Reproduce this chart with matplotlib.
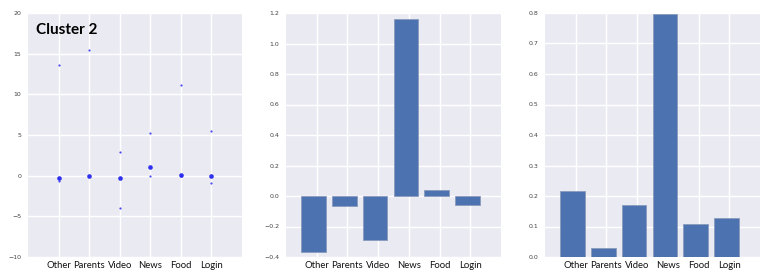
import matplotlib
matplotlib.use("Agg")
import matplotlib.pyplot as plt
import numpy as np

categories = ["Other", "Parents", "Video", "News", "Food", "Login"]

# Panel 1: scattered values per category (small points) and central values (larger points)
scatter_small_cat = [0, 0, 1, 2, 2, 3, 3, 4, 4, 5, 5]
scatter_small_val = [13.6, -0.7, 15.4, 2.9, -4.0, 5.3, -0.1, 11.1, -0.1, 5.5, -0.9]
center_val = [-0.3, -0.1, -0.3, 1.1, 0.1, -0.1]

# Panel 2 and 3 bar values
bar2_values = [-0.366, -0.066, -0.287, 1.162, 0.042, -0.057]
bar3_values = [0.215, 0.029, 0.170, 0.796, 0.107, 0.129]

bg = "#EAEAF2"
bar_color = "#4C72B0"
edge_color = "#8a9bbd"

fig = plt.figure(figsize=(7.74, 2.79), dpi=100)
positions = [
    [28/774, 22/279, 214/774, 244/279],
    [286/774, 22/279, 215/774, 244/279],
    [545/774, 22/279, 215/774, 244/279],
]
axes = [fig.add_axes(p) for p in positions]

xt = np.arange(1, len(categories) + 1)

for ax in axes:
    ax.set_facecolor(bg)
    for s in ax.spines.values():
        s.set_visible(False)
    ax.grid(True, color="white", linewidth=1.0)
    ax.set_axisbelow(True)
    ax.tick_params(axis="both", length=0)
    ax.tick_params(axis="y", labelsize=4.5, labelcolor="#444444", pad=5)
    ax.tick_params(axis="x", labelsize=6.8, labelcolor="#111111", pad=3)
    ax.set_xlim(0, 7)
    ax.set_xticks(xt)
    ax.set_xticklabels(categories, family=["Lato", "DejaVu Sans"])

# Panel 1
ax = axes[0]
sx = np.array(scatter_small_cat) + 1
ax.scatter(sx, scatter_small_val, s=2.5, color="#2020ee", alpha=0.8, linewidths=0, zorder=3)
ax.scatter(xt, center_val, s=11, color="#1a1aee", alpha=0.9, linewidths=0, zorder=3)
ax.set_ylim(-10, 20)
ax.set_yticks([-10, -5, 0, 5, 10, 15, 20])
ax.set_yticklabels(["\u221210", "\u22125", "0", "5", "10", "15", "20"])
ax.text(0.037, 0.96, "Cluster 2", transform=ax.transAxes, fontsize=11, fontweight="bold",
        ha="left", va="top", color="black", family=["Lato", "DejaVu Sans"])

# Panel 2
ax = axes[1]
ax.bar(xt - 0.5, bar2_values, width=0.8, align="edge", color=bar_color,
       edgecolor=edge_color, linewidth=0.6, zorder=3)
ax.set_ylim(-0.4, 1.2)
yt = np.arange(-0.4, 1.21, 0.2)
ax.set_yticks(yt)
ax.set_yticklabels([("%.1f" % v).replace("-", "\u2212") for v in yt])

# Panel 3
ax = axes[2]
ax.bar(xt - 0.5, bar3_values, width=0.8, align="edge", color=bar_color,
       edgecolor=edge_color, linewidth=0.6, zorder=3)
ax.set_ylim(0, 0.8)
yt = np.arange(0, 0.81, 0.1)
ax.set_yticks(yt)
ax.set_yticklabels(["%.1f" % v for v in yt])

fig.savefig("out.png", dpi=100, facecolor="white")
